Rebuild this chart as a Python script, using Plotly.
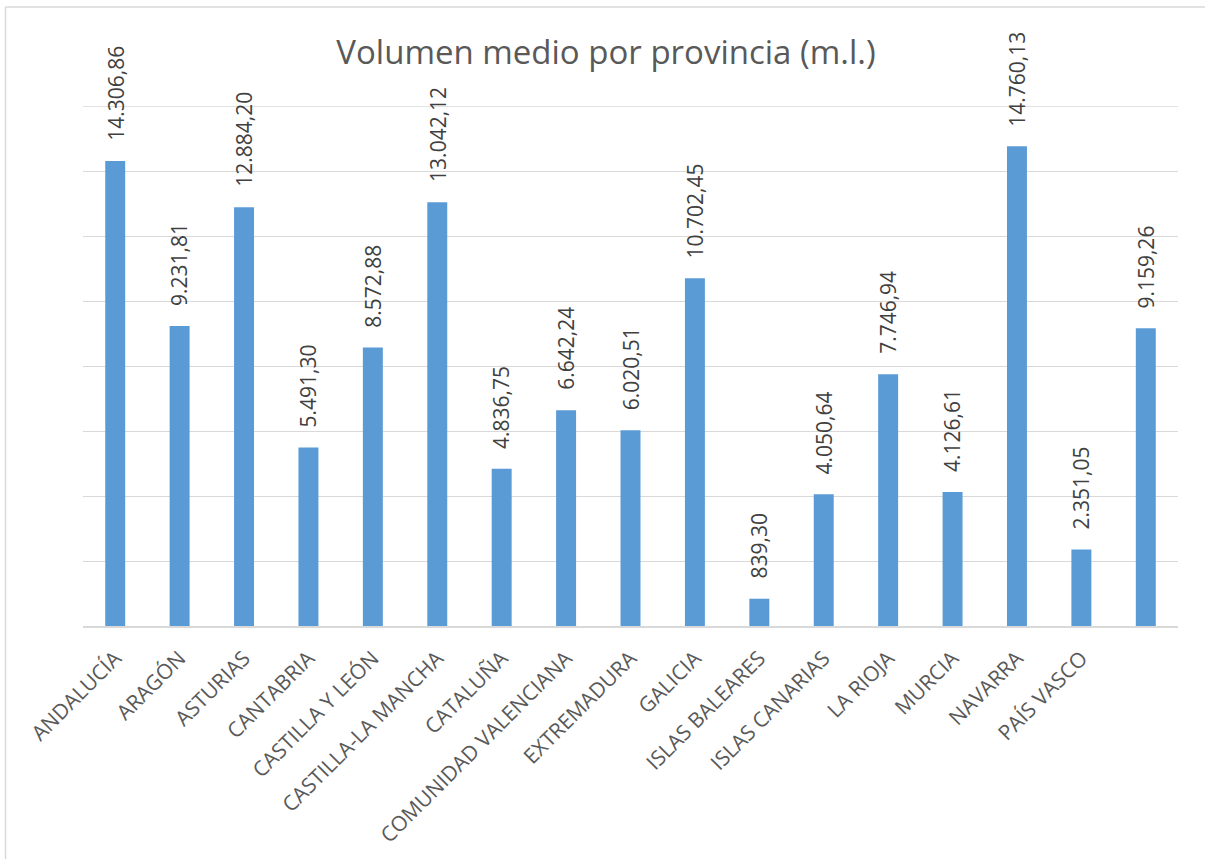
import plotly.graph_objects as go

categories = ["ANDALUCÍA", "ARAGÓN", "ASTURIAS", "CANTABRIA", "CASTILLA Y LEÓN",
              "CASTILLA-LA MANCHA", "CATALUÑA", "COMUNIDAD VALENCIANA", "EXTREMADURA",
              "GALICIA", "ISLAS BALEARES", "ISLAS CANARIAS", "LA RIOJA", "MURCIA",
              "NAVARRA", "PAÍS VASCO", ""]
values = [14306.86, 9231.81, 12884.20, 5491.30, 8572.88, 13042.12, 4836.75, 6642.24,
          6020.51, 10702.45, 839.30, 4050.64, 7746.94, 4126.61, 14760.13, 2351.05, 9159.26]
title_text = "Volumen medio por provincia (m.l.)"
y_max = 16000


def es_fmt(v):
    s = f"{v:,.2f}"
    return s.replace(",", "X").replace(".", ",").replace("X", ".")


W, H = 1205, 859
L, R, T, B = 83, 27, 106, 233
pw, ph = W - L - R, H - T - B

xs = list(range(len(categories)))

fig = go.Figure()
fig.add_trace(go.Bar(
    x=xs, y=values,
    marker=dict(color="#5B9BD5", line=dict(width=0)),
    width=0.31,
    hoverinfo="skip",
))

annotations = []
for x, v in zip(xs, values):
    annotations.append(dict(
        x=x, y=v, xref="x", yref="y",
        text=es_fmt(v), textangle=-90, showarrow=False,
        xanchor="center", yanchor="bottom", yshift=18,
        font=dict(family="Open Sans", size=21, color="#404040"),
    ))

fig.update_layout(
    width=W, height=H,
    margin=dict(l=L, r=R, t=T, b=B, pad=0),
    paper_bgcolor="white", plot_bgcolor="white",
    showlegend=False,
    title=dict(text=title_text, x=606 / W, xref="container", xanchor="center",
               y=1 - 52 / H, yref="container", yanchor="middle",
               font=dict(family="Open Sans", size=33, color="#595959")),
    xaxis=dict(
        range=[-0.5, len(categories) - 0.5],
        tickmode="array", tickvals=xs, ticktext=categories,
        tickangle=-45, ticks="", showgrid=False, zeroline=False,
        showline=True, linecolor="#D9D9D9", linewidth=1.5,
        ticklabelstandoff=10,
        tickfont=dict(family="Open Sans", size=21, color="#595959"),
    ),
    yaxis=dict(
        range=[0, y_max], dtick=2000, showticklabels=False,
        showgrid=True, gridcolor="#D9D9D9", gridwidth=1.3,
        zeroline=False, ticks="",
    ),
    annotations=annotations,
    shapes=[
        dict(type="line", xref="paper", yref="y",
             x0=0, x1=1, y0=y_max, y1=y_max,
             line=dict(color="#D9D9D9", width=1.3)),
        dict(type="line", xref="paper", yref="paper",
             x0=(5.5 - L) / pw, x1=(W + 5 - L) / pw,
             y0=1 + (T - 7) / ph, y1=1 + (T - 7) / ph,
             line=dict(color="#D9D9D9", width=1.5)),
        dict(type="line", xref="paper", yref="paper",
             x0=(5.5 - L) / pw, x1=(5.5 - L) / pw,
             y0=1 + (T - 7) / ph, y1=-(B + 5) / ph,
             line=dict(color="#D9D9D9", width=1.5)),
    ],
)

fig.write_html("out.html")
